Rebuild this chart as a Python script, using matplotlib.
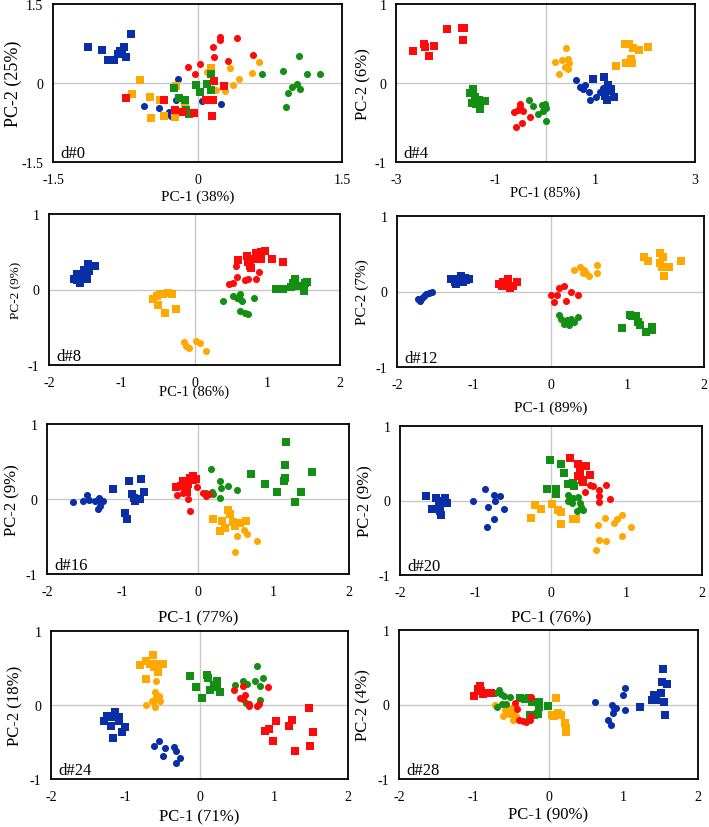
import matplotlib
matplotlib.use('Agg')
import matplotlib.pyplot as plt

plt.rcParams['font.family'] = ['Liberation Serif', 'DejaVu Serif']
plt.rcParams['axes.unicode_minus'] = False

BLUE = '#0a2ea6'
RED = '#ff0a0a'
GREEN = '#138f13'
ORANGE = '#ffa800'

# ---- panel texts / axes ----
panel_names = ['d#0', 'd#4', 'd#8', 'd#12', 'd#16', 'd#20', 'd#24', 'd#28']
x_labels = ['PC-1 (38%)', 'PC-1 (85%)', 'PC-1 (86%)', 'PC-1 (89%)',
            'PC-1 (77%)', 'PC-1 (76%)', 'PC-1 (71%)', 'PC-1 (90%)']
y_labels = ['PC-2 (25%)', 'PC-2 (6%)', 'PC-2 (9%)', 'PC-2 (7%)',
            'PC-2 (9%)', 'PC-2 (9%)', 'PC-2 (18%)', 'PC-2 (4%)']
x_ticks = [[-1.5, 0, 1.5], [-3, -1, 1, 3]] + [[-2, -1, 0, 1, 2]] * 6
y_ticks = [[-1.5, 0, 1.5]] + [[-1, 0, 1]] * 7

# ---- scores (PC-1, PC-2) ----
d0_blue_sq = [(-1.14, 0.68), (-0.99, 0.63), (-0.93, 0.44), (-0.87, 0.44), (-0.83, 0.55),
              (-0.78, 0.58), (-0.76, 0.69), (-0.74, 0.50), (-0.69, 0.93), (-0.80, 0.61)]
d0_blue_ci = [(-0.56, -0.43), (-0.40, -0.47), (-0.30, -0.56), (-0.28, -0.63), (-0.20, 0.08),
              (-0.22, -0.32), (-0.22, -0.54), (0.05, -0.34), (0.24, -0.40), (-0.35, -0.61)]
d0_red_sq = [(-0.74, -0.28), (-0.35, -0.33), (-0.23, -0.51), (-0.15, -0.56), (-0.04, -0.57),
             (0.09, -0.32), (0.16, -0.32), (0.17, 0.03), (0.15, -0.63), (0.28, -0.05)]
d0_red_ci = [(-0.10, 0.30), (-0.03, 0.18), (0.03, 0.36), (0.16, 0.69), (0.17, 0.49),
             (0.23, 0.88), (0.23, 0.82), (0.32, 0.42), (0.41, 0.85), (0.58, 0.53)]
d0_green_sq = [(-0.24, -0.10), (-0.19, -0.29), (-0.13, -0.32), (-0.12, -0.51), (-0.09, -0.59),
               (-0.02, -0.04), (0.03, -0.18), (0.10, -0.01), (0.14, 0.17), (0.14, -0.13)]
d0_green_ci = [(0.67, 0.17), (0.89, 0.22), (1.05, 0.52), (1.14, 0.17), (1.27, 0.17),
               (1.03, -0.02), (0.98, -0.08), (0.94, -0.19), (1.06, -0.11), (0.92, -0.45)]
d0_orange_sq = [(-0.60, 0.06), (-0.68, -0.21), (-0.49, -0.27), (-0.39, -0.32), (-0.48, -0.67),
                (-0.35, -0.63), (-0.23, -0.65), (-0.22, -0.06), (-0.13, -0.43), (0.14, 0.28)]
d0_orange_ci = [(0.10, 0.20), (0.34, 0.28), (0.43, 0.08), (0.37, -0.04), (0.29, -0.15),
                (0.19, -0.13), (0.57, 0.19), (0.64, 0.39)]

d4_blue_sq = [(0.95, 0.05), (1.17, 0.07), (1.26, -0.03), (1.22, -0.10), (1.32, -0.08),
              (1.37, -0.18), (1.24, -0.22), (1.19, -0.16)]
d4_blue_ci = [(0.62, 0.04), (0.69, -0.05), (0.79, -0.02), (0.87, -0.11), (0.90, -0.21),
              (1.02, -0.18), (1.10, -0.12), (1.16, -0.06), (0.75, -0.08)]
d4_red_sq = [(-2.65, 0.40), (-2.43, 0.49), (-2.41, 0.45), (-2.34, 0.34), (-2.24, 0.47),
             (-1.97, 0.68), (-1.67, 0.70), (-1.64, 0.69), (-1.66, 0.55)]
d4_red_ci = [(-0.59, -0.56), (-0.47, -0.50), (-0.64, -0.37), (-0.52, -0.27), (-0.45, -0.36),
             (-0.55, -0.34), (-0.32, -0.43), (-0.51, -0.31)]
d4_green_sq = [(-1.46, -0.07), (-1.52, -0.13), (-1.47, -0.25), (-1.39, -0.27), (-1.32, -0.33),
               (-1.31, -0.26), (-1.22, -0.23), (-1.34, -0.21), (-1.42, -0.18)]
d4_green_ci = [(-0.33, -0.22), (-0.26, -0.29), (-0.15, -0.39), (-0.08, -0.28), (-0.02, -0.26),
               (0.02, -0.32), (0.00, -0.48), (-0.05, -0.35)]
d4_orange_sq = [(1.41, 0.22), (1.59, 0.49), (1.68, 0.50), (1.76, 0.44), (1.88, 0.42),
                (2.06, 0.46), (1.61, 0.25), (1.71, 0.31), (1.73, 0.25)]
d4_orange_ci = [(0.20, 0.27), (0.28, 0.12), (0.34, 0.29), (0.42, 0.44), (0.45, 0.31),
                (0.45, 0.18), (0.47, 0.25), (0.39, 0.20)]

d8_blue_sq = [(-1.66, 0.14), (-1.62, 0.20), (-1.58, 0.09), (-1.55, 0.16), (-1.52, 0.26),
              (-1.46, 0.34), (-1.45, 0.25), (-1.37, 0.31), (-1.61, 0.12), (-1.48, 0.14)]
d8_blue_ci = []
d8_red_sq = [(0.60, 0.39), (0.72, 0.45), (0.74, 0.37), (0.76, 0.31), (0.81, 0.40),
             (0.85, 0.49), (0.92, 0.50), (0.97, 0.51), (0.92, 0.40), (1.06, 0.40),
             (1.22, 0.36), (0.77, 0.29)]
d8_red_ci = [(0.57, 0.31), (0.47, 0.07), (0.53, 0.09), (0.58, 0.16), (0.69, 0.12),
             (0.74, 0.14), (0.85, 0.14), (0.88, 0.23)]
d8_green_sq = [(1.12, 0.01), (1.22, 0.01), (1.32, 0.03), (1.36, 0.09), (1.38, 0.14),
               (1.41, 0.04), (1.50, -0.02), (1.52, 0.09), (1.54, 0.10)]
d8_green_ci = [(0.39, -0.15), (0.53, -0.08), (0.58, -0.11), (0.63, -0.13), (0.65, -0.15),
               (0.62, -0.06), (0.82, -0.11), (0.63, -0.28), (0.69, -0.31), (0.74, -0.33)]
d8_orange_sq = [(-0.57, -0.12), (-0.52, -0.09), (-0.47, -0.06), (-0.43, -0.06), (-0.36, -0.05),
                (-0.31, -0.06), (-0.50, -0.21), (-0.41, -0.31), (-0.25, -0.26)]
d8_orange_ci = [(-0.14, -0.70), (-0.11, -0.75), (-0.07, -0.77), (0.02, -0.68), (0.07, -0.71),
                (0.16, -0.81)]

d12_blue_sq = [(-1.29, 0.17), (-1.25, 0.13), (-1.20, 0.16), (-1.16, 0.21), (-1.14, 0.13),
               (-1.10, 0.15), (-1.06, 0.17), (-1.23, 0.10), (-1.12, 0.18)]
d12_blue_ci = [(-1.73, -0.10), (-1.68, -0.09), (-1.65, -0.06), (-1.62, -0.03), (-1.58, -0.02),
               (-1.55, 0.00), (-1.70, -0.12)]
d12_red_sq = [(-0.67, 0.10), (-0.63, 0.07), (-0.58, 0.13), (-0.55, 0.17), (-0.53, 0.04),
              (-0.49, 0.07), (-0.44, 0.13), (-0.55, 0.07), (-0.62, 0.13)]
d12_red_ci = [(0.01, -0.05), (0.04, -0.14), (0.09, -0.04), (0.11, 0.04), (0.17, 0.07),
              (0.20, -0.12), (0.27, 0.00), (0.36, -0.05)]
d12_green_sq = [(0.93, -0.48), (1.03, -0.31), (1.06, -0.32), (1.11, -0.32), (1.14, -0.40),
                (1.16, -0.44), (1.24, -0.54), (1.32, -0.47), (1.32, -0.51)]
d12_green_ci = [(0.11, -0.31), (0.14, -0.36), (0.17, -0.43), (0.21, -0.38), (0.24, -0.44),
                (0.27, -0.37), (0.30, -0.40), (0.36, -0.34)]
d12_orange_sq = [(1.22, 0.46), (1.27, 0.41), (1.43, 0.38), (1.43, 0.51), (1.46, 0.46),
                 (1.45, 0.32), (1.48, 0.21), (1.55, 0.32), (1.70, 0.40)]
d12_orange_ci = [(0.30, 0.28), (0.39, 0.32), (0.43, 0.29), (0.46, 0.25), (0.50, 0.21),
                 (0.60, 0.25), (0.61, 0.35), (0.42, 0.24)]

d16_blue_sq = [(-1.12, 0.13), (-0.91, 0.24), (-0.88, 0.07), (-0.85, 0.02), (-0.84, -0.02),
               (-0.77, 0.00), (-0.76, 0.27), (-0.72, 0.10), (-0.97, -0.18), (-0.94, -0.27)]
d16_blue_ci = [(-1.65, -0.04), (-1.52, -0.03), (-1.47, 0.05), (-1.44, -0.01), (-1.37, -0.02),
               (-1.31, 0.01), (-1.28, -0.04), (-1.26, -0.03), (-1.32, -0.13), (-1.30, -0.09)]
d16_red_sq = [(-0.29, 0.16), (-0.22, 0.18), (-0.20, 0.24), (-0.17, 0.12), (-0.13, 0.20),
              (-0.10, 0.28), (-0.07, 0.31), (-0.06, 0.25), (-0.03, 0.27), (-0.15, 0.09)]
d16_red_ci = [(-0.28, 0.06), (-0.20, 0.08), (-0.13, 0.00), (-0.11, -0.16), (-0.01, 0.16),
              (0.07, 0.08), (0.11, 0.04), (0.15, 0.07)]
d16_green_sq = [(0.70, 0.33), (0.89, 0.20), (1.05, 0.10), (1.15, 0.28), (1.15, 0.46),
                (1.16, 0.76), (1.28, -0.04), (1.37, 0.09), (1.51, 0.36), (1.14, 0.24)]
d16_green_ci = [(0.11, 0.08), (0.17, 0.40), (0.18, 0.10), (0.20, 0.07), (0.29, 0.24),
                (0.30, 0.15), (0.29, 0.01), (0.40, 0.18), (0.51, 0.12)]
d16_orange_sq = [(0.20, -0.27), (0.29, -0.43), (0.32, -0.29), (0.40, -0.15), (0.42, -0.20),
                 (0.47, -0.31), (0.49, -0.36), (0.55, -0.32), (0.64, -0.29), (0.36, -0.39)]
d16_orange_ci = [(0.49, -0.70), (0.51, -0.49), (0.61, -0.41), (0.65, -0.47), (0.78, -0.56)]

d20_blue_sq = [(-1.66, 0.06), (-1.57, -0.11), (-1.52, 0.04), (-1.49, -0.01), (-1.47, -0.14),
               (-1.46, -0.19), (-1.43, -0.04), (-1.40, 0.04), (-1.38, -0.03), (-1.47, -0.07)]
d20_blue_ci = [(-1.03, 0.00), (-0.87, 0.16), (-0.84, -0.09), (-0.85, -0.36), (-0.76, 0.07),
               (-0.74, -0.01), (-0.75, -0.25), (-0.67, 0.06), (-0.62, -0.11)]
d20_red_sq = [(0.25, 0.57), (0.36, 0.49), (0.38, 0.43), (0.39, 0.35), (0.41, 0.28),
              (0.43, 0.25), (0.46, 0.46), (0.51, 0.34), (0.36, 0.33)]
d20_red_ci = [(0.45, 0.12), (0.51, 0.21), (0.56, 0.19), (0.63, 0.14), (0.64, 0.06),
              (0.63, -0.02), (0.73, 0.21), (0.78, 0.02)]
d20_green_sq = [(-0.01, 0.54), (-0.05, 0.16), (0.06, 0.09), (0.07, 0.15), (0.13, 0.49),
                (0.17, 0.37), (0.23, 0.22), (0.29, 0.24), (0.31, 0.19)]
d20_green_ci = [(0.23, 0.08), (0.23, -0.01), (0.28, -0.03), (0.29, 0.04), (0.34, -0.14),
                (0.36, 0.05), (0.40, -0.09), (0.42, -0.13), (0.38, -0.03)]
d20_orange_sq = [(-0.27, -0.23), (-0.21, -0.06), (-0.13, -0.12), (0.01, -0.05), (0.09, -0.13),
                 (0.13, -0.16), (0.13, -0.31), (0.29, -0.25), (0.33, -0.25)]
d20_orange_ci = [(0.62, -0.33), (0.71, -0.24), (0.84, -0.30), (0.88, -0.25), (0.94, -0.19),
                 (1.06, -0.36), (0.94, -0.48), (0.73, -0.54), (0.64, -0.53), (0.60, -0.66)]

d24_blue_sq = [(-1.29, -0.22), (-1.24, -0.15), (-1.19, -0.16), (-1.14, -0.10), (-1.09, -0.16),
               (-1.08, -0.22), (-1.00, -0.30), (-1.05, -0.37), (-1.19, -0.28), (-1.17, -0.45)]
d24_blue_ci = [(-0.61, -0.56), (-0.55, -0.48), (-0.49, -0.69), (-0.46, -0.58), (-0.35, -0.57),
               (-0.32, -0.62), (-0.26, -0.71), (-0.31, -0.78)]
d24_red_sq = [(0.88, -0.35), (0.94, -0.33), (1.03, -0.22), (0.99, -0.48), (1.21, -0.29),
              (1.24, -0.20), (1.48, -0.04), (1.53, -0.37), (1.28, -0.62), (1.49, -0.56)]
d24_red_ci = [(0.46, 0.20), (0.55, 0.09), (0.59, 0.26), (0.61, 0.14), (0.66, -0.02),
              (0.67, 0.01), (0.77, -0.02), (0.80, 0.02), (0.92, 0.24), (0.58, 0.08)]
d24_green_sq = [(-0.13, 0.39), (-0.05, 0.24), (0.03, 0.09), (0.10, 0.41), (0.12, 0.36),
                (0.14, 0.20), (0.19, 0.27), (0.23, 0.33), (0.28, 0.17), (0.23, 0.24)]
d24_green_ci = [(0.48, 0.27), (0.58, 0.33), (0.64, 0.28), (0.75, 0.33), (0.78, 0.53),
                (0.82, 0.26), (0.86, 0.36), (0.82, 0.07), (0.63, 0.03)]
d24_orange_sq = [(-0.80, 0.54), (-0.72, 0.60), (-0.67, 0.56), (-0.63, 0.68), (-0.61, 0.51),
                 (-0.58, 0.56), (-0.56, 0.45), (-0.49, 0.55), (-0.72, 0.35)]
d24_orange_ci = [(-0.72, 0.00), (-0.64, 0.05), (-0.60, 0.17), (-0.58, 0.11), (-0.55, 0.12),
                 (-0.60, -0.03), (-0.58, 0.33), (-0.61, 0.06), (-0.53, 0.05)]

d28_blue_sq = [(1.23, -0.03), (1.39, 0.06), (1.41, 0.13), (1.44, 0.06), (1.51, 0.15),
               (1.53, 0.48), (1.52, 0.30), (1.59, 0.28), (1.54, 0.03), (1.56, -0.14)]
d28_blue_ci = [(0.62, 0.03), (0.80, -0.21), (0.83, -0.27), (0.85, 0.00), (0.87, -0.05),
               (0.86, -0.12), (0.90, -0.05), (0.99, 0.13), (1.02, 0.22), (1.02, -0.08)]
d28_red_sq = [(-0.99, 0.12), (-0.94, 0.21), (-0.92, 0.25), (-0.90, 0.18), (-0.88, 0.14),
              (-0.82, 0.16), (-0.77, 0.16), (-0.91, 0.21)]
d28_red_ci = [(-0.45, 0.02), (-0.42, -0.06), (-0.39, -0.21), (-0.34, -0.22), (-0.30, -0.23),
              (-0.25, -0.21), (-0.23, 0.10), (-0.23, -0.15)]
d28_green_sq = [(-0.38, 0.09), (-0.32, 0.07), (-0.26, 0.09), (-0.22, 0.04), (-0.25, -0.14),
                (-0.20, -0.14), (-0.14, -0.13), (-0.13, 0.03), (-0.13, -0.04), (-0.01, -0.02)]
d28_green_ci = [(-0.72, 0.15), (-0.66, 0.19), (-0.64, 0.14), (-0.60, 0.12), (-0.69, -0.03),
                (-0.62, 0.01), (-0.57, 0.01), (-0.51, 0.10)]
d28_orange_sq = [(0.05, -0.14), (0.10, 0.09), (0.08, -0.15), (0.13, -0.12), (0.17, -0.14),
                 (0.22, -0.25), (0.23, -0.31), (0.23, -0.37)]
d28_orange_ci = [(-0.71, 0.00), (-0.61, -0.15), (-0.58, -0.08), (-0.53, -0.13), (-0.50, -0.05),
                 (-0.48, -0.21), (-0.47, -0.13), (-0.44, -0.16)]

series = [
    [d0_blue_sq, d0_blue_ci, d0_orange_sq, d0_orange_ci, d0_green_sq, d0_green_ci, d0_red_sq, d0_red_ci],
    [d4_blue_sq, d4_blue_ci, d4_orange_sq, d4_orange_ci, d4_green_sq, d4_green_ci, d4_red_sq, d4_red_ci],
    [d8_blue_sq, d8_blue_ci, d8_orange_sq, d8_orange_ci, d8_green_sq, d8_green_ci, d8_red_sq, d8_red_ci],
    [d12_blue_sq, d12_blue_ci, d12_orange_sq, d12_orange_ci, d12_green_sq, d12_green_ci, d12_red_sq, d12_red_ci],
    [d16_blue_sq, d16_blue_ci, d16_orange_sq, d16_orange_ci, d16_green_sq, d16_green_ci, d16_red_sq, d16_red_ci],
    [d20_blue_sq, d20_blue_ci, d20_orange_sq, d20_orange_ci, d20_green_sq, d20_green_ci, d20_red_sq, d20_red_ci],
    [d24_blue_sq, d24_blue_ci, d24_orange_sq, d24_orange_ci, d24_green_sq, d24_green_ci, d24_red_sq, d24_red_ci],
    [d28_blue_sq, d28_blue_ci, d28_orange_sq, d28_orange_ci, d28_green_sq, d28_green_ci, d28_red_sq, d28_red_ci],
]
styles = [(BLUE, 's'), (BLUE, 'o'), (ORANGE, 's'), (ORANGE, 'o'),
          (GREEN, 's'), (GREEN, 'o'), (RED, 's'), (RED, 'o')]

# layout in pixels: left, top, right, bottom of each box
W, H = 709, 828
boxes = [(53, 5, 342, 163), (396, 5, 695, 163),
         (49, 215, 340, 366), (397, 217, 704, 368),
         (47, 425, 349, 575), (400, 427, 702, 576),
         (51, 632, 348, 780), (399, 631, 698, 780)]
xlab_off = [34, 30, 26, 40, 43, 42, 37, 35]
ylab_off = [40, 33, 33, 35, 35, 35, 36, 36]
xlab_size = [11, 10.5, 10.5, 11, 12, 12, 12, 12]
ylab_size = [13, 12, 9.5, 11, 12, 12, 12, 12]

fig = plt.figure(figsize=(W / 100, H / 100), dpi=100)

for i in range(8):
    l, t, r, b = boxes[i]
    ax = fig.add_axes([l / W, 1 - b / H, (r - l) / W, (b - t) / H])
    ax.axhline(0, color='#c8c8c8', lw=1, zorder=0)
    ax.axvline(0, color='#c8c8c8', lw=1, zorder=0)
    for pts, (col, mk) in zip(series[i], styles):
        if not pts:
            continue
        xs = [p[0] for p in pts]
        ys = [p[1] for p in pts]
        ax.scatter(xs, ys, s=26, marker=mk, color=col, linewidths=0, zorder=3)
    xt, yt = x_ticks[i], y_ticks[i]
    ax.set_xlim(xt[0], xt[-1])
    ax.set_ylim(yt[0], yt[-1])
    ax.set_xticks(xt)
    ax.set_yticks(yt)
    ax.set_xticklabels([('%g' % v) for v in xt])
    ax.set_yticklabels([('%g' % v) for v in yt])
    ax.tick_params(length=0, labelsize=10, pad=7)
    ax.tick_params(axis='x', pad=8)
    for sp in ax.spines.values():
        sp.set_linewidth(1.3)
        sp.set_color('black')
    ax.set_xlabel(x_labels[i], fontsize=xlab_size[i], va='center')
    ax.xaxis.set_label_coords(0.5, -xlab_off[i] / (b - t))
    ax.set_ylabel(y_labels[i], fontsize=ylab_size[i], va='center')
    ax.yaxis.set_label_coords(-ylab_off[i] / (r - l), 0.5)
    ax.text(7 / (r - l), 5 / (b - t), panel_names[i], transform=ax.transAxes,
            fontsize=12, va='baseline', ha='left')

fig.savefig('out.png', dpi=100)
